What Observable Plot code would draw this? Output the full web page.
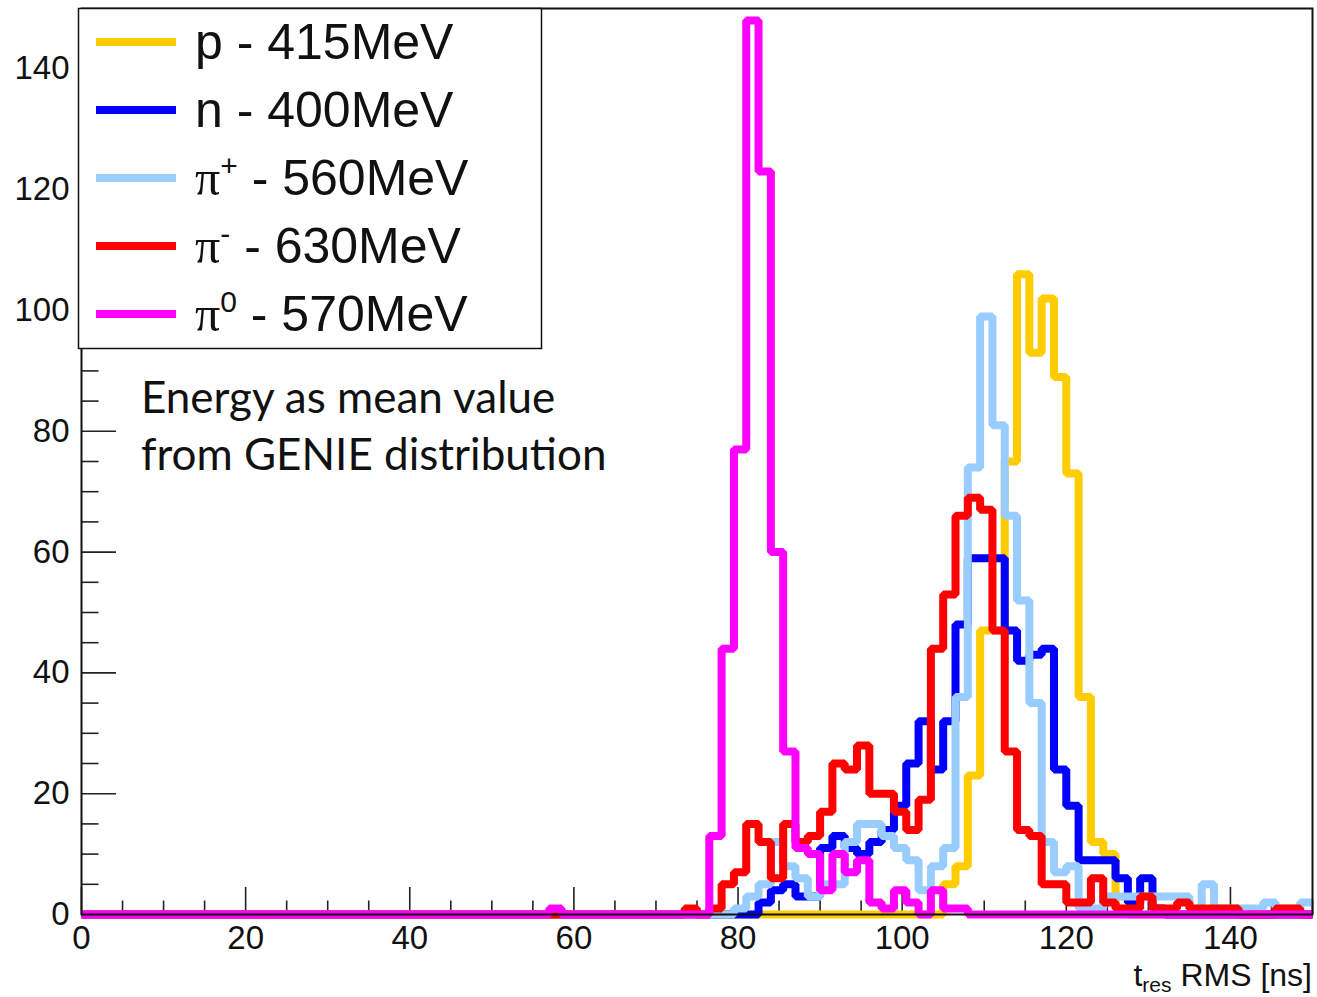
<!DOCTYPE html>
<html>
<head>
<meta charset="utf-8">
<script src="https://cdn.jsdelivr.net/npm/d3@7"></script>
<script src="https://cdn.jsdelivr.net/npm/@observablehq/plot@0.6"></script>
<style>
  html, body { margin: 0; padding: 0; background: #fff; }
  #chart { width: 1317px; height: 997px; }
</style>
</head>
<body>
<div id="chart"></div>
<script>
// Histogram binning: 1.5 ns bins over 0–150 ns; every bin below 54 ns is listed from 54 ns on.
const binWidth = 1.5;
const firstEdge = 54;
const lastEdge = 150;

// Counts per bin, bins from 54 ns to 150 ns (64 bins), ten per row
const proton = [
  0, 0, 0, 0, 0, 0, 0, 0, 0, 0,
  0, 0, 0, 0, 0, 0, 0, 0, 0, 0,
  0, 0, 0, 0, 0, 0, 0, 0, 0, 0,
  0, 0, 0, 0, 5, 8, 23, 47, 47, 75,
  106, 93, 102, 89, 73, 36, 12, 10, 1, 0,
  0, 0, 0, 0, 0, 0, 0, 0, 0, 0,
  0, 0, 0, 0
];
const neutron = [
  0, 0, 0, 0, 0, 0, 0, 0, 0, 0,
  0, 0, 0, 0, 0, 0, 0, 0, 0, 2,
  4, 5, 3, 3, 11, 13, 11, 10, 12, 14,
  18, 25, 32, 24, 32, 48, 59, 59, 59, 47,
  42, 43, 44, 24, 18, 9, 9, 9, 6, 2,
  6, 1, 0, 0, 0, 0, 0, 0, 0, 0,
  0, 0, 0, 0
];
const piPlus = [
  0, 0, 0, 0, 0, 0, 0, 0, 0, 0,
  0, 0, 0, 0, 0, 0, 0, 1, 3, 5,
  12, 8, 6, 3, 5, 5, 12, 15, 15, 13,
  11, 9, 4, 8, 11, 36, 74, 99, 81, 66,
  52, 35, 12, 7, 8, 1, 1, 3, 3, 3,
  3, 3, 3, 3, 1, 5, 1, 1, 1, 1,
  2, 1, 1, 2
];
const piMinus = [
  0, 0, 0, 0, 0, 0, 0, 0, 0, 0,
  0, 0, 0, 1, 0, 1, 5, 7, 15, 12,
  6, 15, 12, 13, 17, 25, 24, 28, 20, 20,
  17, 14, 19, 44, 53, 66, 69, 67, 47, 27,
  14, 13, 5, 5, 2, 2, 6, 2, 1, 1,
  3, 1, 1, 2, 1, 1, 1, 1, 0, 0,
  0, 1, 1, 0
];
const piZero = [
  0, 0, 1, 0, 0, 0, 0, 0, 0, 0,
  0, 0, 0, 0, 0, 13, 44, 77, 148, 123,
  60, 27, 11, 10, 4, 10, 7, 9, 2, 1,
  4, 2, 0, 4, 1, 1, 0, 0, 0, 0,
  0, 0, 0, 0, 0, 0, 0, 0, 0, 0,
  0, 0, 0, 0, 0, 0, 0, 0, 0, 0,
  0, 0, 0, 0
];

// Legend entries, in drawing order
const seriesNames = ["p", "n", "π+", "π-", "π0"];
const seriesEnergies = ["415MeV", "400MeV", "560MeV", "630MeV", "570MeV"];
const seriesColors = ["#FFCC00", "#0000FF", "#99CCFF", "#FF0000", "#FF00FF"];
const seriesCounts = [proton, neutron, piPlus, piMinus, piZero];

// Axis ticks
const xMajor = [0, 20, 40, 60, 80, 100, 120, 140];
const xMinor = d3.range(0, 151, 5).filter(v => v % 20 !== 0);
const yMajor = [0, 20, 40, 60, 80, 100, 120, 140];
const yMinor = d3.range(0, 150, 5).filter(v => v % 20 !== 0);

const W = 1317, H = 997;
const mL = 81, mR = 5, mT = 8, mB = 83;
const xDom = [0, 150], yDom = [0, 150];
const pxX = (W - mL - mR) / (xDom[1] - xDom[0]);
const pxY = (H - mT - mB) / (yDom[1] - yDom[0]);

// Outline of a histogram: left bin edges with counts, closed at the last edge
function outline(counts) {
  const pts = [{t: 0, n: 0}];
  counts.forEach((c, i) => pts.push({t: firstEdge + i * binWidth, n: c}));
  pts.push({t: lastEdge, n: counts[counts.length - 1]});
  return pts;
}

const histLines = seriesCounts.map((counts, i) =>
  Plot.line(outline(counts), {
    x: "t", y: "n", curve: "step-after",
    stroke: seriesColors[i], strokeWidth: 8,
    strokeLinejoin: "miter", strokeLinecap: "butt"
  })
);

const tickColor = "#222";
const plot = Plot.plot({
  width: W, height: H,
  marginLeft: mL, marginRight: mR, marginTop: mT, marginBottom: mB,
  x: {domain: xDom},
  y: {domain: yDom},
  style: {background: "white", fontFamily: "Liberation Sans, Arial, sans-serif", fontSize: "33px", overflow: "visible"},
  marks: [
    // inward-pointing ticks
    Plot.ruleX(xMajor, {x: d => d, y1: 0, y2: 27 / pxY, stroke: tickColor, strokeWidth: 1.6}),
    Plot.ruleX(xMinor, {x: d => d, y1: 0, y2: 13.5 / pxY, stroke: tickColor, strokeWidth: 1.6}),
    Plot.ruleY(yMajor, {y: d => d, x1: 0, x2: 35 / pxX, stroke: tickColor, strokeWidth: 1.6}),
    Plot.ruleY(yMinor, {y: d => d, x1: 0, x2: 17.5 / pxX, stroke: tickColor, strokeWidth: 1.6}),
    ...histLines,
    Plot.frame({stroke: "#111", strokeWidth: 2}),
    Plot.axisX(xMajor, {anchor: "bottom", tickSize: 0, tickPadding: 11, label: null, fontSize: 33, fill: "#111"}),
    Plot.axisY(yMajor, {anchor: "left", tickSize: 0, tickPadding: 12, label: null, fontSize: 33, fill: "#111"})
  ]
});

document.getElementById("chart").appendChild(plot);

const svg = d3.select(plot);

// Legend box in the upper-left corner of the frame
const lg = svg.append("g").attr("text-anchor", "start");
lg.append("rect")
  .attr("x", 78.5).attr("y", 8.5).attr("width", 463).attr("height", 340)
  .attr("fill", "white").attr("stroke", "#111").attr("stroke-width", 1.5);

seriesNames.forEach((name, i) => {
  const yc = 42 + i * 68;
  lg.append("line")
    .attr("x1", 96).attr("x2", 176).attr("y1", yc).attr("y2", yc)
    .attr("stroke", seriesColors[i]).attr("stroke-width", 8);
  const t = lg.append("text")
    .attr("x", 195).attr("y", yc + 17).attr("text-anchor", "start")
    .attr("font-family", "Liberation Sans, Arial, sans-serif")
    .attr("font-size", 50).attr("fill", "#111");
  if (name.startsWith("π")) {
    t.append("tspan").attr("font-family", "Liberation Serif, serif").text("π");
    t.append("tspan").attr("font-size", 30).attr("dy", -19).text(name.slice(1));
    t.append("tspan").attr("dy", 19).text(" - " + seriesEnergies[i]);
  } else {
    t.text(name + " - " + seriesEnergies[i]);
  }
});

// Note on the energies
const note = svg.append("text").attr("text-anchor", "start")
  .attr("font-family", "Lato, sans-serif").attr("font-size", 44).attr("fill", "#111");
note.append("tspan").attr("x", 141).attr("y", 413).text("Energy as mean value");
note.append("tspan").attr("x", 141).attr("y", 470).text("from GENIE distribution");

// x-axis title with subscript
const xt = svg.append("text")
  .attr("x", W - mR).attr("y", 986).attr("text-anchor", "end")
  .attr("font-family", "Liberation Sans, Arial, sans-serif")
  .attr("font-size", 32).attr("fill", "#111");
xt.append("tspan").text("t");
xt.append("tspan").attr("font-size", 21).attr("dy", 6).text("res");
xt.append("tspan").attr("dy", -6).text(" RMS [ns]");
</script>
</body>
</html>
